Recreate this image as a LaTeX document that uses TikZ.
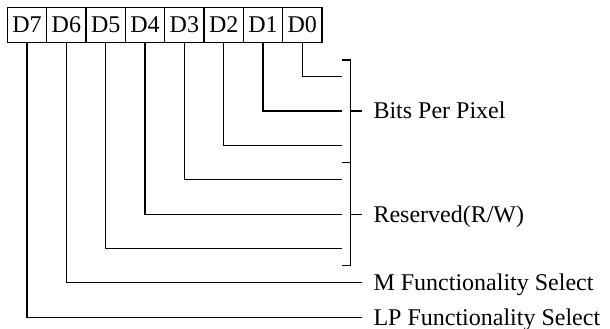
\documentclass[tikz,border=0pt]{standalone}
\usepackage{fontspec}
\setmainfont{Liberation Serif}
\begin{document}
\begin{tikzpicture}[x=0.5pt,y=-0.5pt,line width=0.6pt,
    bitcell/.style={draw, minimum width=19.67pt, minimum height=17.7pt, inner sep=0pt,
      font=\fontsize{12}{14}\selectfont},
    fieldlbl/.style={anchor=west, inner xsep=5.6pt, inner ysep=0pt, text height=7.94pt,
      text depth=0pt, font=\fontsize{12}{14}\selectfont}]
    \useasboundingbox (0,0) rectangle (610,328);

    % The register: bits D7 ... D0
    \foreach \i in {0,...,7}
        \node[bitcell] (d\i) at ({302.33-39.33*\i},25) {D\i};

    % Field labels
    \node[fieldlbl] (bits) at (361.7,111) {Bits Per Pixel};
    \node[fieldlbl] (resv) at (361.7,214.3) {Reserved(R/W)};
    \node[fieldlbl] (mfun) at (361.7,282.8) {M Functionality Select};
    \node[fieldlbl] (lpfun) at (361.7,317.3) {LP Functionality Select};

    % Leads from bits D0 ... D5 to the brackets
    \foreach \i/\y in {0/76.7, 1/111, 2/145.4, 3/179.8, 4/214.3, 5/248.6} {
        \coordinate (e\i) at (341.7,\y);
        \draw (d\i.south) |- (e\i);
    }

    % Brackets
    \draw (341.7,60) -| (350.7,265.8) -- (341.7,265.8);
    \draw (341.7,162.7) -- (350.7,162.7);
    \coordinate (b1) at (350.7,111);
    \coordinate (b2) at (350.7,214.3);
    \draw (b1) -- (bits.west);
    \draw (b2) -- (resv.west);

    % Single-bit fields
    \draw (d6.south) |- (mfun.west);
    \draw (d7.south) |- (lpfun.west);
\end{tikzpicture}
\end{document}
